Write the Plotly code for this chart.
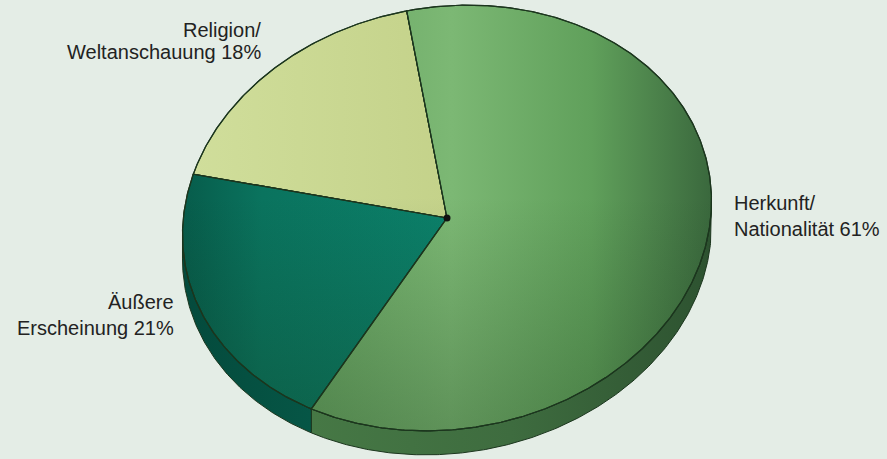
import numpy as np
import plotly.graph_objects as go

# ---- data ----
categories = ["Religion/Weltanschauung", "Äußere Erscheinung", "Herkunft/Nationalität"]
label_lines = [["Religion/", "Weltanschauung"], ["Äußere", "Erscheinung"], ["Herkunft/", "Nationalität"]]
shares = [18, 21, 61]

# ---- styling ----
top_scales = [
    [[0.0, "#d0de9b"], [1.0, "#c4d28a"]],
    [[0.0, "#075c4b"], [0.3, "#0a735e"], [1.0, "#0b806a"]],
    [[0.0, "#6aa664"], [0.35, "#7cb874"], [0.7, "#60a05b"], [1.0, "#3a683d"]],
]
side_scales = [
    [[0.0, "#8a9a5a"], [1.0, "#7a8a4a"]],
    [[0.0, "#044a3c"], [1.0, "#065646"]],
    [[0.0, "#467845"], [0.5, "#3e6c3f"], [1.0, "#2d5230"]],
]
edge_color = "#1c361e"
bg_color = "#e4ede6"

W, H = 887, 459
CX, CY = 447, 218          # centre of the top face
RX, RY = 266, 211          # semi-axes of the tilted disc
TILT = np.radians(10)      # in-plane rotation of the disc outline
DEPTH = 24                 # thickness of the disc
START = 90.8               # angle of the first slice edge (deg, counter-clockwise)


def arc(t0, t1, dy=0.0, n=None):
    n = n or max(int(abs(t1 - t0) * 2), 4)
    t = np.radians(np.linspace(t0, t1, n))
    u, v = RX * np.cos(t), RY * np.sin(t)
    x = CX + u * np.cos(TILT) - v * np.sin(TILT)
    y = CY - (u * np.sin(TILT) + v * np.cos(TILT)) + dy
    return x, y


fig = go.Figure()

# slice angles from the shares
bounds = []
acc = START
for s in shares:
    bounds.append((acc, acc + 360.0 * s / 100.0))
    acc += 360.0 * s / 100.0

# the front half of the rim lies between the left and right silhouette points
t_sil = np.degrees(np.arctan2(-RY * np.sin(TILT), RX * np.cos(TILT)))
front = [(180 + t_sil, 360 + t_sil), (540 + t_sil, 720 + t_sil)]

# side walls
for i, (t0, t1) in enumerate(bounds):
    for lo, hi in front:
        a, b = max(t0, lo), min(t1, hi)
        if b <= a:
            continue
        xu, yu = arc(a, b)
        xl, yl = arc(b, a, DEPTH)
        xs = np.concatenate([xu, xl, xu[:1]])
        ys = np.concatenate([yu, yl, yu[:1]])
        fig.add_trace(go.Scatter(
            x=xs, y=ys, mode="lines", fill="toself",
            line=dict(color=edge_color, width=1),
            fillgradient=dict(type="horizontal", colorscale=side_scales[i],
                              start=float(xs.min()), stop=float(xs.max())),
            hoverinfo="skip", showlegend=False))

# top face slices
y_top, y_bot = CY - RY, CY + RY
for i, (t0, t1) in enumerate(bounds):
    xa, ya = arc(t0, t1)
    xs = np.concatenate([[CX], xa, [CX]])
    ys = np.concatenate([[CY], ya, [CY]])
    fig.add_trace(go.Scatter(
        x=xs, y=ys, mode="lines", fill="toself",
        line=dict(color=edge_color, width=1.2),
        fillgradient=dict(type="horizontal", colorscale=top_scales[i],
                          start=float(xs.min()), stop=float(xs.max())),
        name=categories[i], hoverinfo="name", showlegend=False))
    # soft shading towards the front edge
    fig.add_trace(go.Scatter(
        x=xs, y=ys, mode="lines", fill="toself",
        line=dict(color=edge_color, width=1.2),
        fillgradient=dict(type="vertical",
                          colorscale=[[0.0, "rgba(20,50,20,0)"], [0.45, "rgba(20,50,20,0)"],
                                      [1.0, "rgba(20,50,20,0.28)"]],
                          start=float(y_top), stop=float(y_bot)),
        hoverinfo="skip", showlegend=False))

# hub
fig.add_trace(go.Scatter(x=[CX], y=[CY], mode="markers",
                         marker=dict(color="#111", size=7),
                         hoverinfo="skip", showlegend=False))

# labels
label_pos = [  # (x, first line y, line gap, anchor)
    (263, 30, 22, "right"),
    (176, 302, 26, "right"),
    (732, 203, 26, "left"),
]
for lines, s, (lx, ly, gap, anc) in zip(label_lines, shares, label_pos):
    texts = lines[:-1] + [f"{lines[-1]} {s}%"]
    for k, t in enumerate(texts):
        fig.add_annotation(x=lx, y=ly + k * gap, text=t, showarrow=False,
                           xanchor=anc, yanchor="middle",
                           font=dict(family="Liberation Sans, Arial, sans-serif",
                                     size=20, color="#222222"))

fig.update_layout(
    width=W, height=H, margin=dict(l=0, r=0, t=0, b=0),
    paper_bgcolor=bg_color, plot_bgcolor=bg_color,
    xaxis=dict(range=[0, W], visible=False, fixedrange=True),
    yaxis=dict(range=[H, 0], visible=False, fixedrange=True),
)

fig.write_html("out.html")
